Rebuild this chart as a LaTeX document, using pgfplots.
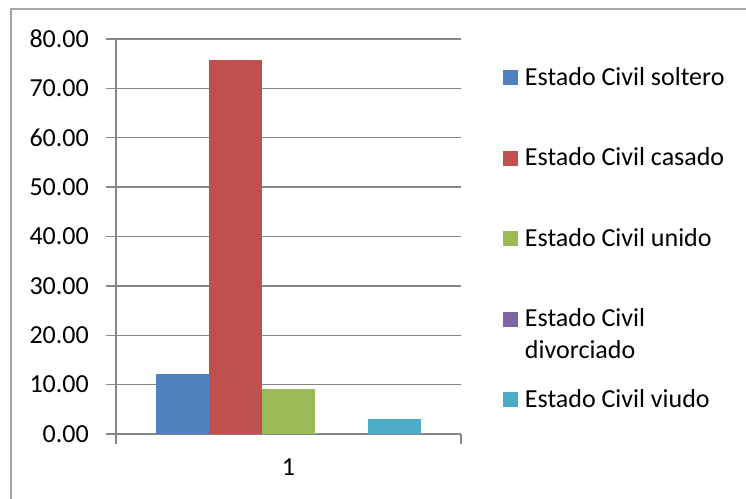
\documentclass[border=0pt]{standalone}
\usepackage{fontspec}
\setmainfont{Carlito}
\usepackage{pgfplots}
\pgfplotsset{compat=1.18}
\definecolor{c1}{HTML}{4F81BD}
\definecolor{c2}{HTML}{C0504D}
\definecolor{c3}{HTML}{9BBB59}
\definecolor{c4}{HTML}{8064A2}
\definecolor{c5}{HTML}{4BACC6}
\definecolor{gridc}{HTML}{868686}
\definecolor{borderc}{HTML}{A6A6A6}
\newcommand{\bigfont}{\fontsize{26}{32}\selectfont}
\pgfplotsset{
  mybar/.style={ybar, bar shift=0pt, bar width=1, draw=none, fill=#1,
    legend image code/.code={\fill[fill=#1,draw=none] (0pt,-10.3pt) rectangle (15pt,4.7pt);}},
}
\begin{document}
\begin{tikzpicture}
\useasboundingbox (-116pt,-64pt) rectangle (630pt,434pt);
\draw[borderc, line width=1.2pt] (-105pt,-80pt) -- (-105pt,425pt) -- (650pt,425pt);
\begin{axis}[
  at={(0pt,0pt)}, anchor=south west,
  scale only axis, width=345pt, height=395pt,
  xmin=-3.25, xmax=3.25, ymin=0, ymax=80,
  axis lines=left,
  axis line style={-, draw=gridc, line width=1.3pt},
  ytick={0,10,...,80},
  xtick={-3.25,3.25}, xticklabels={},
  extra x ticks={0}, extra x tick labels={\textrm{1}},
  extra x tick style={major tick length=0pt},
  tick align=outside, major tick length=10pt,
  tick style={draw=gridc, line width=1.3pt},
  ymajorgrids, grid style={draw=gridc, line width=1.3pt},
  /pgf/number format/assume math mode=true,
  yticklabel style={font=\bigfont, anchor=east, inner sep=0pt, xshift=-17pt,
    /pgf/number format/fixed, /pgf/number format/fixed zerofill,
    /pgf/number format/precision=2},
  xticklabel style={font=\bigfont, anchor=north, inner sep=0pt, yshift=-25pt},
  legend style={draw=none, fill=none, at={(1.1217,0.939)}, anchor=north west,
    inner sep=0pt, outer sep=0pt, row sep=56.5pt, column sep=7pt,
    font=\bigfont, nodes={inner sep=0pt}},
  legend cell align=left,
  clip=false,
]
\addplot[mybar=c1] coordinates {(-2,12.1)};
\addlegendentry{\strut Estado Civil soltero}
\addplot[mybar=c2] coordinates {(-1,75.8)};
\addlegendentry{\strut Estado Civil casado}
\addplot[mybar=c3] coordinates {(0,9.1)};
\addlegendentry{\strut Estado Civil unido}
\addplot[mybar=c4] coordinates {(1,0)};
\addlegendentry{\strut\smash{\begin{tabular}[t]{@{}l@{}}Estado Civil\\divorciado\end{tabular}}}
\addplot[mybar=c5] coordinates {(2,3.0)};
\addlegendentry{\strut Estado Civil viudo}
\end{axis}
\end{tikzpicture}
\end{document}
